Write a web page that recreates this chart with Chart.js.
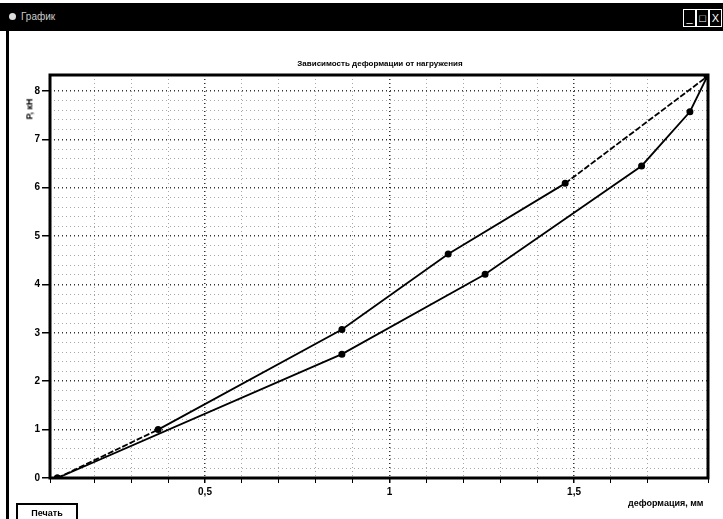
<!DOCTYPE html>
<html>
<head>
<meta charset="utf-8">
<script src="https://cdn.jsdelivr.net/npm/chart.js@4"></script>
<style>
  body { margin: 0; background: #fff; font-family: "Liberation Sans", Arial, sans-serif; }
  #wrap { position: relative; width: 723px; height: 519px; overflow: hidden; background: #fff; }
  #chart { position: absolute; left: 0; top: 0; }
  .titlebar { position: absolute; left: 0; top: 3px; width: 723px; height: 28px; background: #000; }
  .titlebar .icon { position: absolute; left: 9px; top: 10px; width: 7px; height: 7px; border-radius: 50%; background: #ddd; }
  .titlebar .caption { position: absolute; left: 21px; top: 8px; color: #ccc; font-size: 10px; }
  .titlebar .btn { position: absolute; top: 6px; width: 11px; height: 16px; border: 1px solid #fff; color: #fff; font-size: 11px; line-height: 16px; text-align: center; }
  .frame-left { position: absolute; left: 6px; top: 31px; width: 3px; height: 488px; background: #000; }
  .label { position: absolute; font-weight: bold; color: #000; white-space: nowrap; }
  .print { position: absolute; left: 16px; top: 503px; width: 58px; height: 20px; border: 2px solid #000; font-size: 9px; font-weight: bold; text-align: center; line-height: 16px; }
</style>
</head>
<body>
<div id="wrap">
  <canvas id="chart" width="723" height="519"></canvas>
  <div class="titlebar">
    <div class="icon"></div>
    <div class="caption">График</div>
    <div class="btn" style="left:683px;">_</div>
    <div class="btn" style="left:696px;">□</div>
    <div class="btn" style="left:709px;">X</div>
  </div>
  <div class="frame-left"></div>
  <div class="label" style="left:0; width:760px; top:59px; font-size:8px; text-align:center;">Зависимость деформации от нагружения</div>
  <div class="label" style="left:19px; top:104px; font-size:9px; transform:rotate(-90deg);">P, кН</div>
  <div class="label" style="left:628px; top:498px; font-size:9px;">деформация, мм</div>
  <div class="print">Печать</div>
</div>
<script>
// loading curve (upper)
const loadX = [0.1, 0.373, 0.871, 1.159, 1.476, 1.861];
const loadY = [0, 1.0, 3.07, 4.63, 6.09, 8.3];
// unloading curve (lower)
const unloadX = [0.1, 0.871, 1.259, 1.683, 1.814, 1.861];
const unloadY = [0, 2.56, 4.21, 6.45, 7.57, 8.3];

const xMin = 0.08, xMax = 1.863;
const yMin = 0, yMax = 8.33;
const xMajorTicks = [0.5, 1, 1.5];

function toPoints(xs, ys) {
  return xs.map((x, i) => ({ x: x, y: ys[i] }));
}

function isMultiple(v, step) {
  const r = v / step;
  return Math.abs(r - Math.round(r)) < 1e-6;
}

// thick frame around the plot area
const framePlugin = {
  id: 'frame',
  afterDraw(chart) {
    const a = chart.chartArea;
    const c = chart.ctx;
    c.save();
    c.strokeStyle = '#000';
    c.lineWidth = 3;
    c.setLineDash([]);
    c.strokeRect(a.left, a.top, a.right - a.left, a.bottom - a.top);
    c.restore();
  }
};

const lastSeg = loadX.length - 2;

new Chart(document.getElementById('chart'), {
  type: 'line',
  data: {
    datasets: [
      {
        label: 'нагружение',
        data: toPoints(loadX, loadY),
        borderColor: '#000',
        backgroundColor: '#000',
        borderWidth: 1.8,
        pointRadius: 2.6,
        pointBackgroundColor: '#000',
        tension: 0,
        segment: {
          borderDash: ctx => (ctx.p0DataIndex === 0 || ctx.p0DataIndex === lastSeg) ? [6, 2] : undefined
        }
      },
      {
        label: 'разгрузка',
        data: toPoints(unloadX, unloadY),
        borderColor: '#000',
        backgroundColor: '#000',
        borderWidth: 1.8,
        pointRadius: 2.6,
        pointBackgroundColor: '#000',
        tension: 0
      }
    ]
  },
  options: {
    responsive: false,
    animation: false,
    layout: { padding: { left: 0, top: 75, right: 15, bottom: 0 } },
    plugins: {
      legend: { display: false },
      tooltip: { enabled: false },
      title: { display: false }
    },
    scales: {
      x: {
        type: 'linear',
        min: xMin,
        max: xMax,
        afterFit: scale => { scale.height = 41; },
        ticks: {
          stepSize: 0.1,
          autoSkip: false,
          maxRotation: 0,
          padding: 3,
          color: '#000',
          font: { family: 'Liberation Sans', size: 10, weight: 'bold' },
          callback: v => xMajorTicks.some(m => Math.abs(m - v) < 1e-6) ? String(v).replace('.', ',') : ''
        },
        grid: {
          color: ctx => isMultiple(ctx.tick.value, 0.5) ? 'rgba(0,0,0,0.8)' : 'rgba(0,0,0,0.35)',
          lineWidth: ctx => isMultiple(ctx.tick.value, 0.5) ? 1.5 : 1,
          tickLength: 5,
          tickColor: '#000'
        },
        border: { display: false, dash: [1, 3] }
      },
      y: {
        type: 'linear',
        min: yMin,
        max: yMax,
        afterFit: scale => { scale.width = 50; },
        ticks: {
          stepSize: 0.2,
          autoSkip: false,
          padding: 2,
          color: '#000',
          font: { family: 'Liberation Sans', size: 10, weight: 'bold' },
          callback: v => isMultiple(v, 1) ? String(Math.round(v)) : ''
        },
        grid: {
          color: ctx => isMultiple(ctx.tick.value, 1) ? 'rgba(0,0,0,0.8)' : 'rgba(0,0,0,0.35)',
          lineWidth: ctx => isMultiple(ctx.tick.value, 1) ? 1.5 : 1,
          tickLength: 8,
          tickColor: ctx => isMultiple(ctx.tick.value, 1) ? '#000' : 'rgba(0,0,0,0)'
        },
        border: { display: false, dash: [1, 3] }
      }
    }
  },
  plugins: [framePlugin]
});
</script>
</body>
</html>
